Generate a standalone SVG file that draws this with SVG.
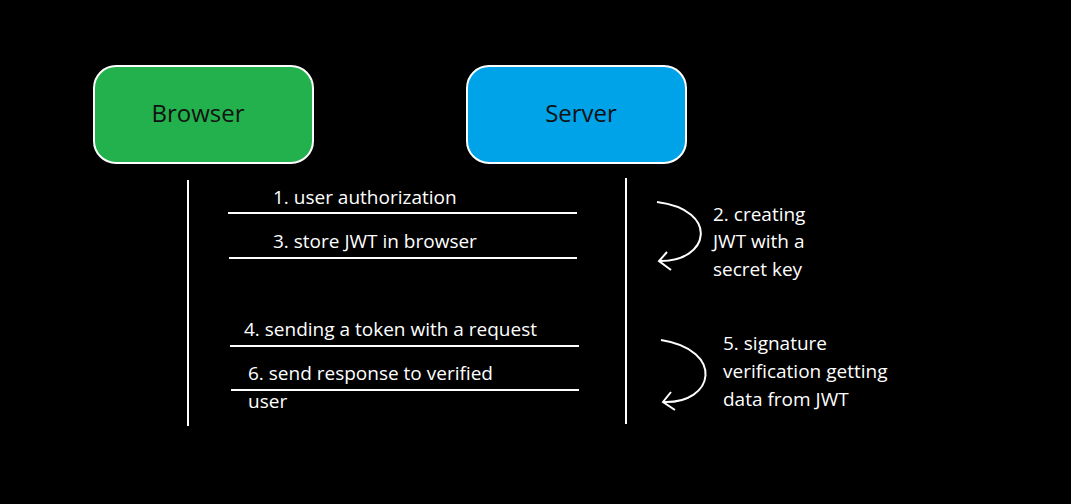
<svg xmlns="http://www.w3.org/2000/svg" width="1071" height="504" viewBox="0 0 1071 504">
<style>
.box{stroke:#fff;stroke-width:2}
.bt{font-family:"Open Sans",sans-serif;font-size:24px;fill:#111;text-anchor:middle}
.t{font-family:"Open Sans",sans-serif;font-size:19px;fill:#fff}
.l{stroke:#fff;stroke-width:2;fill:none}
</style>
<rect width="1071" height="504" fill="#000"/>
<g id="browser"><rect class="box" x="94" y="66" width="219" height="97" rx="22" fill="#22B14C"/><text class="bt" x="198" y="122">Browser</text></g>
<g id="server"><rect class="box" x="467" y="66" width="219" height="97" rx="22" fill="#00A2E8"/><text class="bt" x="581" y="122">Server</text></g>
<g id="connectors">
<line class="l" x1="188" y1="180" x2="188" y2="426"/>
<line class="l" x1="626" y1="178" x2="626" y2="424"/>
<line class="l" x1="228" y1="213" x2="577" y2="213"/>
<line class="l" x1="229" y1="258" x2="577" y2="258"/>
<line class="l" x1="230" y1="346" x2="579" y2="346"/>
<line class="l" x1="231" y1="390" x2="579" y2="390"/>
<path class="l" d="M657 202 C 720 210 710 262 659 261 M667 252 L659 261 L671 270"/>
<path class="l" d="M661 340 C 725 350 715 404 663 402 M671 392 L663 402 L675 410"/>
</g>
<g id="labels">
<text class="t" x="273" y="204">1. user authorization</text>
<text class="t" x="273" y="248">3.  store JWT in browser</text>
<text class="t" x="244" y="336">4. sending a token with a request</text>
<text class="t" x="248" y="380">6. send response to verified</text>
<text class="t" x="248" y="408">user</text>
<text class="t" x="713" y="221">2. creating</text>
<text class="t" x="713" y="248">JWT with a</text>
<text class="t" x="713" y="276">secret key</text>
<text class="t" x="723" y="350">5. signature</text>
<text class="t" x="723" y="378">verification getting</text>
<text class="t" x="723" y="406">data from JWT</text>
</g>
</svg>
